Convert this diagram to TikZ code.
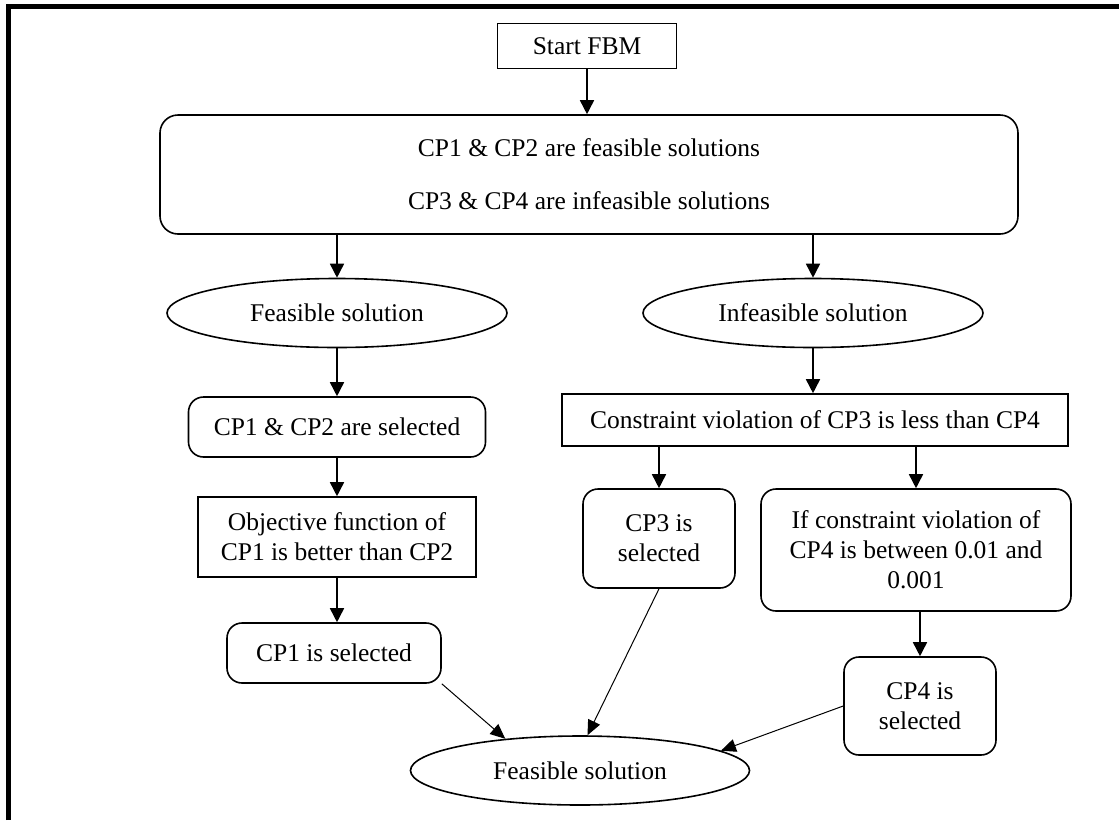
\documentclass[tikz,border=0pt]{standalone}
\usepackage{fontspec}
\setmainfont{Liberation Serif}
\usetikzlibrary{shapes.geometric,arrows.meta}

\begin{document}
\begin{tikzpicture}[x=1pt, y=-1pt, font=\fontsize{25.5}{30}\selectfont,
  plainbox/.style={draw, line width=1.6pt, inner sep=0pt, align=center},
  roundbox/.style={plainbox, rounded corners=15pt},
  oval/.style={plainbox, ellipse, minimum width=340pt, minimum height=69pt},
  flow/.style={line width=1.6pt, -{Triangle[length=14pt,width=14pt]}},
  thinflow/.style={line width=1pt, -{Triangle[length=15pt,width=13pt]}}]
  \useasboundingbox (0,0) rectangle (1119,820);
  \draw[line width=5pt] (8,820) -- (8,6) -- (1119,6);

  \node[plainbox, minimum width=179pt, minimum height=45pt] (start) at (587,46) {Start FBM};
  \node[plainbox, rounded corners=18pt, minimum width=858pt, minimum height=119pt] (cpall) at (589,174.5)
    {CP1 \& CP2 are feasible solutions\\[23pt]CP3 \& CP4 are infeasible solutions};
  \node[oval] (feas) at (337,313) {Feasible solution};
  \node[oval] (infeas) at (813,313) {Infeasible solution};
  \node[roundbox, minimum width=297pt, minimum height=60pt] (sel12) at (337,427) {CP1 \& CP2 are selected};
  \node[plainbox, minimum width=506pt, minimum height=52pt] (viol) at (815,420)
    {Constraint violation of CP3 is less than CP4};
  \node[plainbox, minimum width=278pt, minimum height=80pt] (obj) at (337,537)
    {Objective function of\\CP1 is better than CP2};
  \node[roundbox, minimum width=214pt, minimum height=60pt] (cp1) at (334,653) {CP1 is selected};
  \node[roundbox, minimum width=152pt, minimum height=99pt] (cp3) at (659,538.5) {CP3 is\\selected};
  \node[roundbox, minimum width=310pt, minimum height=122pt] (ifv) at (916,550)
    {If constraint violation of\\CP4 is between 0.01 and\\0.001};
  \node[roundbox, minimum width=152pt, minimum height=98pt] (cp4) at (920,706) {CP4 is\\selected};
  \node[oval, minimum width=339pt] (final) at (580,770.5) {Feasible solution};

  \draw[flow] (start.south) -- (start.south |- cpall.north);
  \draw[flow] (feas.north |- cpall.south) -- (feas.north);
  \draw[flow] (infeas.north |- cpall.south) -- (infeas.north);
  \draw[flow] (feas.south) -- (feas.south |- sel12.north);
  \draw[flow] (infeas.south) -- (infeas.south |- viol.north);
  \draw[flow] (sel12.south) -- (sel12.south |- obj.north);
  \draw[flow] (obj.south) -- (obj.south |- cp1.north);
  \draw[flow] (cp3.north |- viol.south) -- (cp3.north);
  \draw[flow] (ifv.north |- viol.south) -- (ifv.north);
  \draw[flow] (cp4.north |- ifv.south) -- (cp4.north);
  \draw[thinflow] (cp1.south east) -- (final.157);
  \draw[thinflow] (cp3.south) -- (final.78);
  \draw[thinflow] (cp4.west) -- (final.8);
\end{tikzpicture}
\end{document}
